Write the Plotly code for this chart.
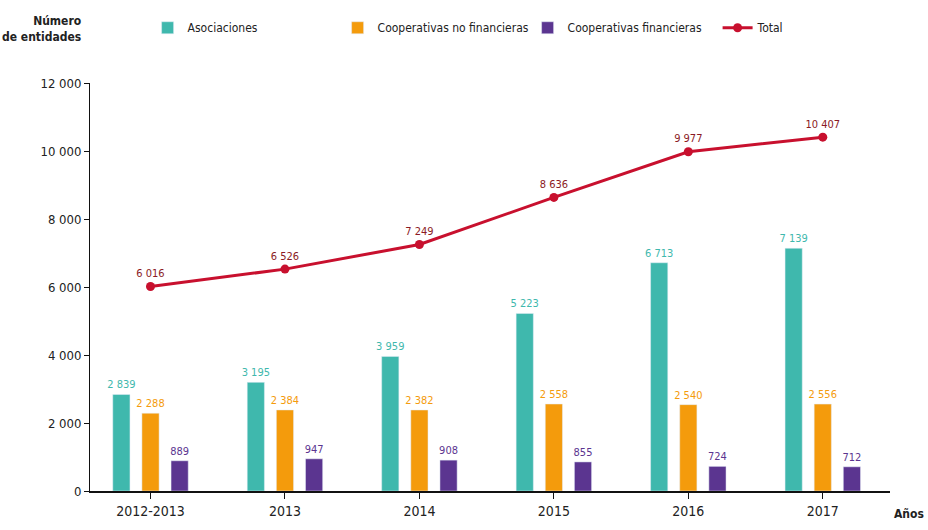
import plotly.graph_objects as go

categories = ["2012-2013", "2013", "2014", "2015", "2016", "2017"]
asociaciones = [2839, 3195, 3959, 5223, 6713, 7139]
coop_no_fin = [2288, 2384, 2382, 2558, 2540, 2556]
coop_fin = [889, 947, 908, 855, 724, 712]
total = [6016, 6526, 7249, 8636, 9977, 10407]
y_ticks = [0, 2000, 4000, 6000, 8000, 10000, 12000]

TEAL = "#3fb8ad"
ORANGE = "#f49b0c"
PURPLE = "#5b3590"
RED = "#c8102e"
FONT = "DejaVu Sans Condensed, Liberation Sans Narrow, sans-serif"

fig = go.Figure()
for name, vals, col in [("Asociaciones", asociaciones, TEAL),
                        ("Cooperativas no financieras", coop_no_fin, ORANGE),
                        ("Cooperativas financieras", coop_fin, PURPLE)]:
    fig.add_trace(go.Bar(x=categories, y=vals, name=name, marker_color=col,
                         text=vals, texttemplate="%{y:,}", textposition="outside",
                         constraintext="none",
                         textfont=dict(color=col, size=11, family=FONT), cliponaxis=False))

fig.add_trace(go.Scatter(x=categories, y=total, name="Total", mode="lines+markers+text",
                         line=dict(color=RED, width=3), marker=dict(color=RED, size=9),
                         text=total, texttemplate="%{y:,}", textposition="top center",
                         textfont=dict(color="#8b1a24", size=11, family=FONT), cliponaxis=False))

fig.update_layout(
    width=928, height=530,
    margin=dict(l=90, r=38, t=83, b=39),
    paper_bgcolor="white", plot_bgcolor="white",
    separators=", ",
    barmode="group", bargap=0.35, bargroupgap=0.41,
    font=dict(family=FONT, color="#222", size=12),
    showlegend=True,
    legend=dict(orientation="h", x=0.072, xanchor="left", y=0.975, yanchor="top",
                yref="container", font=dict(size=12, color="#222"),
                itemwidth=30, entrywidth=145, entrywidthmode="pixels"),
    xaxis=dict(type="category", range=[-0.45, 5.5], showline=True, linecolor="#111",
               linewidth=1.5, ticks="outside", ticklen=6, tickcolor="#111",
               tickfont=dict(size=14, color="#222"), showgrid=False),
    yaxis=dict(range=[0, 12000], tickvals=y_ticks, tickformat=",d", showline=True,
               linecolor="#111", linewidth=1, ticks="outside", ticklen=5,
               tickcolor="#111", showgrid=False, zeroline=False,
               tickfont=dict(size=13, color="#222")),
    annotations=[
        dict(text="<b>Número<br>de entidades</b>", xref="paper", yref="paper",
             x=-0.009, y=1.09, xanchor="right", yanchor="bottom", showarrow=False,
             align="right", font=dict(size=12, color="#222")),
        dict(text="<b>Años</b>", xref="paper", yref="paper", x=1.045, y=-0.035,
             xanchor="right", yanchor="top", showarrow=False,
             font=dict(size=12, color="#222")),
    ],
)
fig.write_html("out.html")
